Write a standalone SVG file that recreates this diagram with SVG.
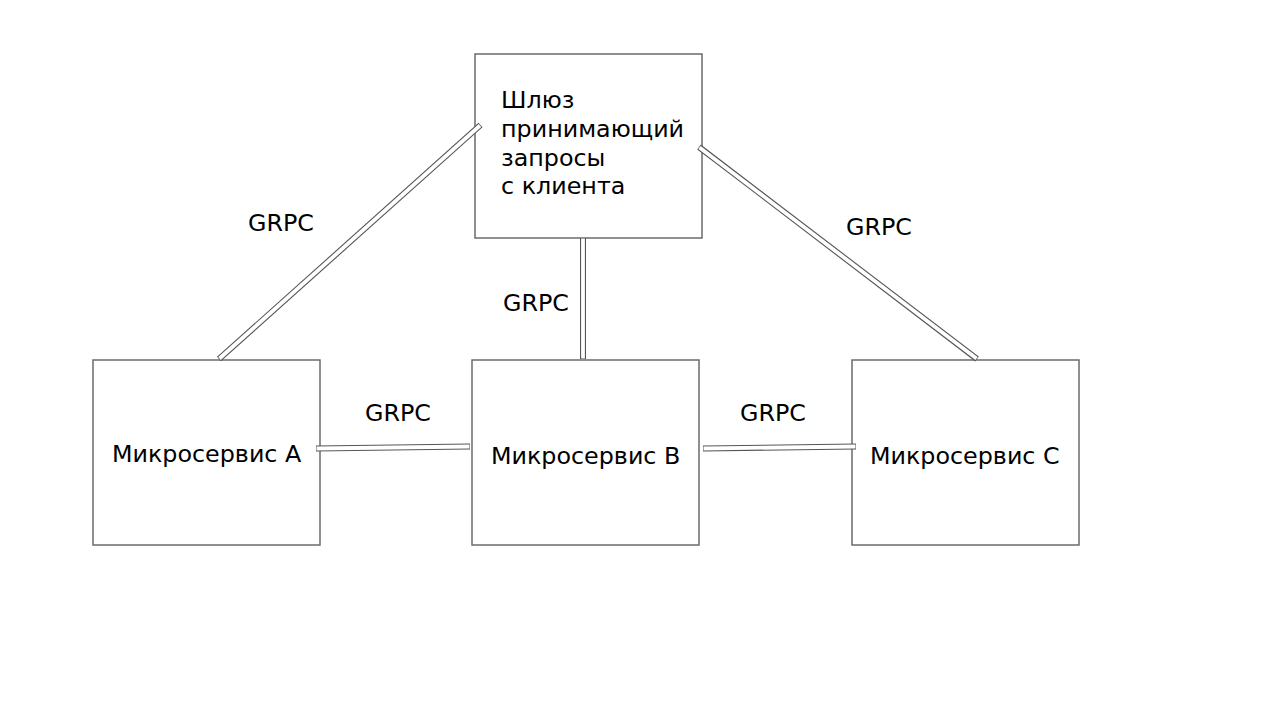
<svg xmlns="http://www.w3.org/2000/svg" width="1280" height="720" viewBox="0 0 1280 720">
<style>
.box{fill:#fff;stroke:#6b6b6b;stroke-width:1.5}
.t{font-family:"DejaVu Sans",sans-serif;font-size:23.8px;fill:#000}
.co{stroke:#555;stroke-width:6;fill:none}
.ci{stroke:#fff;stroke-width:3.8;fill:none}
</style>
<rect width="1280" height="720" fill="#fff"/>
<g id="gateway"><rect class="box" x="475" y="54" width="227" height="184"/>
<text class="t" x="501" y="108">Шлюз</text>
<text class="t" x="501" y="137">принимающий</text>
<text class="t" x="501" y="166">запросы</text>
<text class="t" x="501" y="194">с клиента</text></g>
<g id="msA"><rect class="box" x="93" y="360" width="227" height="185"/><text class="t" x="112" y="462">Микросервис A</text></g>
<g id="msB"><rect class="box" x="472" y="360" width="227" height="185"/><text class="t" x="491" y="464">Микросервис B</text></g>
<g id="msC"><rect class="box" x="852" y="360" width="227" height="185"/><text class="t" x="870" y="464">Микросервис C</text></g>
<g id="connectors">
<path class="co" d="M480.5,125 L219,359 M699,147 L977,359 M583,238 L583,359 M316,448.5 L470,446.5 M703,448.5 L856,446.5"/>
<path class="ci" d="M480,125.5 L219.5,358.5 M699.5,147.5 L976.5,358.5 M583,238.5 L583,358.5 M316.5,448.5 L469.5,446.5 M703.5,448.5 L855.5,446.5"/>
<text class="t" x="248" y="231">GRPC</text>
<text class="t" x="503" y="311">GRPC</text>
<text class="t" x="846" y="235">GRPC</text>
<text class="t" x="365" y="421">GRPC</text>
<text class="t" x="740" y="421">GRPC</text>
</g>
</svg>
